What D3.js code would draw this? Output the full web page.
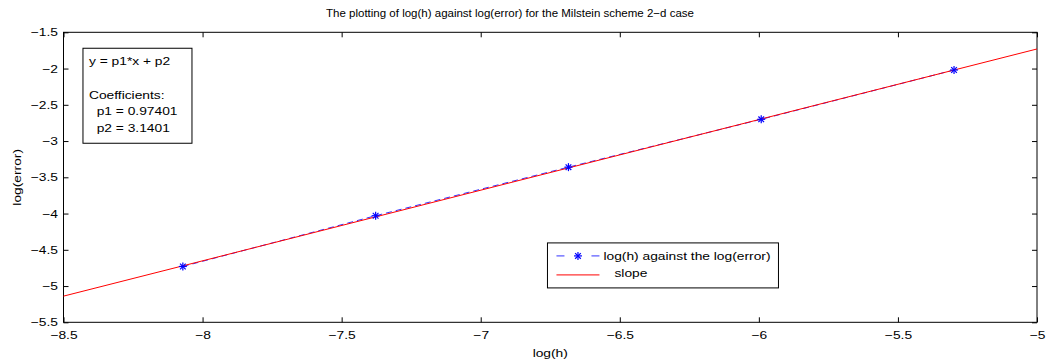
<!DOCTYPE html>
<html>
<head>
<meta charset="utf-8">
<script src="https://cdn.jsdelivr.net/npm/d3@7"></script>
<style>
  body { margin: 0; background: #fff; }
  text { font-family: "Liberation Sans", Arial, sans-serif; }
</style>
</head>
<body>
<svg id="chart" width="1049" height="363"></svg>
<script>
// data
var logH = [-8.0709, -7.3778, -6.6846, -5.9915, -5.2983];
var logErr = [-4.73, -4.03, -3.36, -2.70, -2.02];
var p1 = 0.97401, p2 = 3.1401;
var xTicks = [-8.5, -8, -7.5, -7, -6.5, -6, -5.5, -5];
var yTicks = [-1.5, -2, -2.5, -3, -3.5, -4, -4.5, -5, -5.5];
var fitText = ["y = p1*x + p2", "", "Coefficients:", "  p1 = 0.97401", "  p2 = 3.1401"];

var svg = d3.select("#chart");
var margin = {left: 63.5, right: 12, top: 32.3, bottom: 40.7};
var width = 1049 - margin.left - margin.right,
    height = 363 - margin.top - margin.bottom;
var fs = 11.5, sx = 1.2;   // the figure text looks stretched sideways

var g = svg.append("g")
    .attr("transform", "translate(" + margin.left + "," + margin.top + ")");

var x = d3.scaleLinear().domain([-8.5, -5]).range([0, width]);
var y = d3.scaleLinear().domain([-5.5, -1.5]).range([height, 0]);

function fmt(d) { return String(d).replace("-", "\u2212"); }

// put a stretched text at (tx,ty)
function addText(sel, tx, ty, str, anchor, rot) {
    return sel.append("text")
        .attr("transform", "translate(" + tx + "," + ty + ")" + (rot ? " rotate(" + rot + ")" : "") + " scale(" + sx + ",1)")
        .attr("text-anchor", anchor || "start")
        .attr("font-size", fs)
        .style("white-space", "pre")
        .text(str);
}

// axes, ticks pointing inwards like matlab
var xAxis = d3.axisBottom(x).tickValues(xTicks).tickSize(-5).tickPadding(9).tickFormat(fmt);
var yAxis = d3.axisLeft(y).tickValues(yTicks).tickSize(-5).tickPadding(5.5).tickFormat(fmt);

var gx = g.append("g").attr("class", "axis").attr("transform", "translate(0," + height + ")").call(xAxis);
var gy = g.append("g").attr("class", "axis").call(yAxis);
g.append("g").attr("class", "axis")
    .call(d3.axisTop(x).tickValues(xTicks).tickSize(-5).tickFormat(""));
g.append("g").attr("class", "axis").attr("transform", "translate(" + width + ",0)")
    .call(d3.axisRight(y).tickValues(yTicks).tickSize(-5).tickFormat(""));

g.selectAll(".axis path, .axis line").attr("stroke", "#000").attr("stroke-width", 1);
g.selectAll(".axis .domain").remove();
g.selectAll(".axis text").attr("font-size", fs).attr("fill", "#000")
    .attr("transform", "scale(" + sx + ",1)");
gy.selectAll("text").attr("x", -5.5 / sx);

g.append("rect").attr("width", width).attr("height", height)
    .attr("fill", "none").attr("stroke", "#000").attr("stroke-width", 1);

// data line
var line = d3.line().x(function(d, i) { return x(logH[i]); }).y(function(d) { return y(d); });
g.append("path").datum(logErr)
    .attr("d", line)
    .attr("fill", "none").attr("stroke", "#3333ff").attr("stroke-width", 1)
    .attr("stroke-dasharray", "6,4");

// fitted slope
var fit = x.domain().map(function(v) { return [v, p1 * v + p2]; });
g.append("path").datum(fit)
    .attr("d", d3.line().x(function(d) { return x(d[0]); }).y(function(d) { return y(d[1]); }))
    .attr("fill", "none").attr("stroke", "#ff0000").attr("stroke-width", 1);

// star markers
function drawStar(sel, cx, cy) {
    var s = sel.append("g").attr("transform", "translate(" + cx + "," + cy + ")");
    [0, 45, 90, 135].forEach(function(a) {
        s.append("line").attr("x1", -4).attr("x2", 4)
            .attr("transform", "rotate(" + a + ")")
            .attr("stroke", "#0000ff").attr("stroke-width", 1.2);
    });
}
logErr.forEach(function(d, i) { drawStar(g, x(logH[i]), y(d)); });

// text box with coefficients
var tb = g.append("g").attr("transform", "translate(" + x(-8.43) + "," + y(-1.72) + ")");
tb.append("rect").attr("width", 109).attr("height", 95)
    .attr("fill", "#fff").attr("stroke", "#000").attr("stroke-width", 1);
fitText.forEach(function(t, i) { addText(tb, 6, 17 + i * 16.7, t); });

// legend
var lg = g.append("g").attr("transform", "translate(" + x(-6.76) + "," + y(-4.405) + ")");
lg.append("rect").attr("width", 231).attr("height", 45)
    .attr("fill", "#fff").attr("stroke", "#000").attr("stroke-width", 1);
[[9, 17], [44, 52]].forEach(function(s) {
    lg.append("line").attr("x1", s[0]).attr("x2", s[1]).attr("y1", 13).attr("y2", 13)
        .attr("stroke", "#3333ff");
});
drawStar(lg, 30.5, 13);
addText(lg, 56, 17, "log(h) against the log(error)");
lg.append("line").attr("x1", 9).attr("x2", 52).attr("y1", 32).attr("y2", 32)
    .attr("stroke", "#ff0000");
addText(lg, 67, 34, "slope");

// title and axis labels
svg.append("text").attr("x", 510).attr("y", 17)
    .attr("text-anchor", "middle").attr("font-size", 11.5)
    .text("The plotting of log(h) against log(error) for the Milstein scheme 2\u2212d case");
addText(svg, margin.left + width / 2, 357, "log(h)", "middle");
addText(svg, 20.5, margin.top + height / 2, "log(error)", "middle", -90);
</script>
</body>
</html>
